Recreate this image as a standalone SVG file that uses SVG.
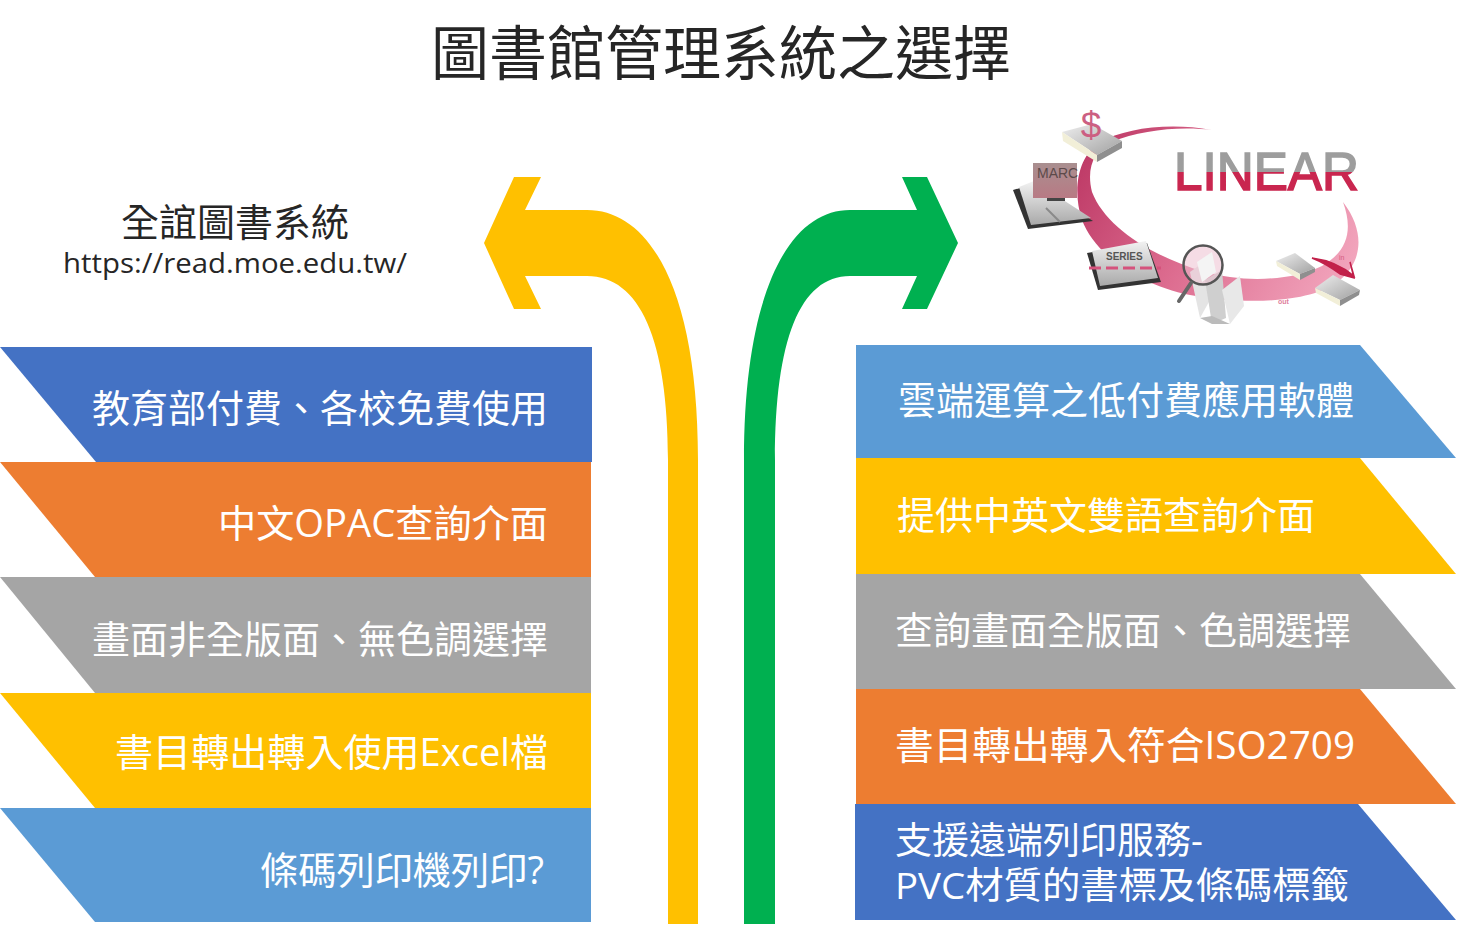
<svg xmlns="http://www.w3.org/2000/svg" width="1457" height="933" viewBox="0 0 1457 933">
<style>
text{font-family:"Open Sans","Noto Sans CJK TC","Noto Sans",sans-serif}
.l{font-size:38px;fill:#fff;text-anchor:end}
.r{font-size:38px;fill:#fff}
.dk{fill:#262626}
.top{fill:url(#gTop)}
.cream{fill:#f2efd8}
.edge{fill:#8f8f8f}
.spine{fill:#333}
.page{fill:url(#gPage)}
.logo{font-family:"Liberation Sans",sans-serif}
</style>
<defs>
<linearGradient id="gTop" x1="0" y1="0" x2="1" y2="1"><stop offset="0" stop-color="#efefef"/><stop offset="1" stop-color="#a0a0a0"/></linearGradient>
<linearGradient id="gPage" x1="0" y1="0" x2="0" y2="1"><stop offset="0" stop-color="#f2f2f2"/><stop offset="1" stop-color="#a9a9a9"/></linearGradient>
<linearGradient id="gSw" gradientUnits="userSpaceOnUse" x1="1090" y1="150" x2="1350" y2="290"><stop offset="0" stop-color="#bf3c68"/><stop offset=".45" stop-color="#dd6d90"/><stop offset="1" stop-color="#f3a8bf"/></linearGradient>
<linearGradient id="gLin" gradientUnits="userSpaceOnUse" x1="0" y1="152" x2="0" y2="192"><stop offset=".5" stop-color="#9d9d9d"/><stop offset=".5" stop-color="#c9264f"/></linearGradient>
<linearGradient id="gScr" x1="0" y1="0" x2="0" y2="1"><stop offset="0" stop-color="#a98f90"/><stop offset="1" stop-color="#b87a84"/></linearGradient>
</defs>
<rect width="1457" height="933" fill="#fff"/>
<text x="721" y="75" font-size="59" text-anchor="middle" class="dk" textLength="580" lengthAdjust="spacingAndGlyphs">圖書館管理系統之選擇</text>
<g id="left-title"><text x="235" y="236" font-size="38" text-anchor="middle" class="dk">全誼圖書系統</text>
<text x="235" y="273" font-size="28" text-anchor="middle" class="dk" textLength="344" lengthAdjust="spacingAndGlyphs">https://read.moe.edu.tw/</text></g>
<g id="connectors">
<path d="M698 924H668V460C668 340 640 276 587 276H525L541 309H514L484 243L514 177H541L525 210H587C650 210 698 290 698 460Z" fill="#ffc000"/>
<path d="M744 924H775V460C775 340 800 276 850 276H917L902 309H927L958 243L927 177H902L917 210H850C790 210 744 290 744 460Z" fill="#00b050"/>
</g>
<g id="l1"><polygon points="0,347 592,347 592,462 96,462" fill="#4472c4"/><text class="l" x="548" y="422">教育部付費、各校免費使用</text></g>
<g id="l2"><polygon points="0,462 591,462 591,577 95,577" fill="#ed7d31"/><text class="l" x="548" y="537" textLength="330" lengthAdjust="spacingAndGlyphs">中文OPAC查詢介面</text></g>
<g id="l3"><polygon points="0,577 591,577 591,693 95,693" fill="#a5a5a5"/><text class="l" x="548" y="653">畫面非全版面、無色調選擇</text></g>
<g id="l4"><polygon points="0,693 591,693 591,808 95,808" fill="#ffc000"/><text class="l" x="548" y="766" textLength="433" lengthAdjust="spacingAndGlyphs">書目轉出轉入使用Excel檔</text></g>
<g id="l5"><polygon points="0,808 591,808 591,922 95,922" fill="#5b9bd5"/><text class="l" x="544" y="884" textLength="284" lengthAdjust="spacingAndGlyphs">條碼列印機列印?</text></g>
<g id="r1"><polygon points="856,345 1360,345 1456,458 856,458" fill="#5b9bd5"/><text class="r" x="898" y="414">雲端運算之低付費應用軟體</text></g>
<g id="r2"><polygon points="856,458 1360,458 1456,574 856,574" fill="#ffc000"/><text class="r" x="897" y="529">提供中英文雙語查詢介面</text></g>
<g id="r3"><polygon points="856,574 1360,574 1456,689 856,689" fill="#a5a5a5"/><text class="r" x="895" y="644">查詢畫面全版面、色調選擇</text></g>
<g id="r4"><polygon points="856,689 1360,689 1456,804 856,804" fill="#ed7d31"/><text class="r" x="895" y="759" textLength="460" lengthAdjust="spacingAndGlyphs">書目轉出轉入符合ISO2709</text></g>
<g id="r5"><polygon points="855,804 1358,804 1456,920 855,920" fill="#4472c4"/><text class="r" x="895" y="854" font-size="37" style="font-size:37px">支援遠端列印服務-</text><text class="r" x="895" y="899" style="font-size:37px" textLength="454" lengthAdjust="spacingAndGlyphs">PVC材質的書標及條碼標籤</text></g>
<g id="linear-logo">
<path d="M1212 130C1170 122 1125 128 1100 142C1078 156 1072 190 1082 220C1095 255 1140 285 1190 295C1240 304 1310 305 1340 280C1362 262 1366 232 1343 202C1354 232 1346 252 1322 266C1290 282 1240 282 1205 272C1150 256 1105 226 1092 192C1086 168 1094 150 1112 142C1140 130 1180 126 1212 130Z" fill="url(#gSw)"/>
<path d="M1312 258C1328 260 1342 266 1354 276L1350 262L1354 278L1340 274C1332 268 1322 262 1312 258Z" fill="#c2204a" stroke="#c2204a" stroke-width="1.5"/>
<polygon points="1062,132 1092,124 1122,141 1097,155" class="top"/>
<polygon points="1062,132 1097,155 1097,162 1063,141" class="cream"/>
<polygon points="1097,155 1122,141 1122,148 1097,162" class="edge"/>
<text class="logo" x="1091" y="138" font-size="37" text-anchor="middle" fill="#cc5f82">$</text>
<polygon points="1013,190 1034,184 1093,221 1028,229" class="spine"/>
<polygon points="1019,187 1034,181 1091,218 1031,225" class="page"/>
<path d="M1046 208L1060 222" stroke="#8a8a8a" stroke-width="2" fill="none"/>
<rect x="1033" y="163" width="44" height="35" fill="url(#gScr)"/>
<rect x="1047" y="198" width="18" height="3" fill="#444"/>
<text class="logo" x="1037" y="178" font-size="14" fill="#5c4a4a">MARC</text>
<polygon points="1087,253 1147,243 1161,282 1098,290" class="spine"/>
<polygon points="1092,251 1146,241 1158,278 1100,286" class="page"/>
<text class="logo" x="1106" y="260" font-size="10" font-weight="bold" fill="#555">SERIES</text>
<line x1="1089" y1="268" x2="1161" y2="268" stroke="#d5527c" stroke-width="3" stroke-dasharray="12 5"/>
<polygon points="1190,272 1204,262 1210,300 1200,318" fill="#e4e4e4"/>
<polygon points="1205,280 1222,270 1226,318 1212,324" fill="#cfcfcf"/>
<polygon points="1222,290 1240,276 1244,306 1230,324" fill="#e8e8e8"/>
<polygon points="1200,318 1212,324 1230,324 1212,316" fill="#bbb"/>
<circle cx="1203" cy="265" r="19.5" fill="#ecc0cf" fill-opacity=".55" stroke="#555" stroke-width="2.5"/>
<polygon points="1197,262 1212,252 1216,272 1202,282" fill="#f4f4f4"/>
<line x1="1191" y1="283" x2="1179" y2="301" stroke="#666" stroke-width="4" stroke-linecap="round"/>
<polygon points="1276,261 1295,253 1315,268 1300,274" class="top"/>
<polygon points="1276,261 1300,274 1300,280 1277,266" class="cream"/>
<polygon points="1300,274 1315,268 1315,272 1300,280" class="edge"/>
<polygon points="1315,288 1333,275 1360,290 1340,300" class="top"/>
<polygon points="1315,288 1340,300 1340,306 1316,293" class="cream"/>
<polygon points="1340,300 1360,290 1359,295 1340,306" class="edge"/>
<text class="logo" x="1339" y="260" font-size="7" fill="#d65c80">in</text>
<text class="logo" x="1278" y="304" font-size="7" font-weight="bold" fill="#e0809c">out</text>
<text class="logo" x="1174" y="190" font-size="53" fill="url(#gLin)" stroke="url(#gLin)" stroke-width="1.6" textLength="185" lengthAdjust="spacingAndGlyphs">LINEAR</text>
</g>
</svg>
